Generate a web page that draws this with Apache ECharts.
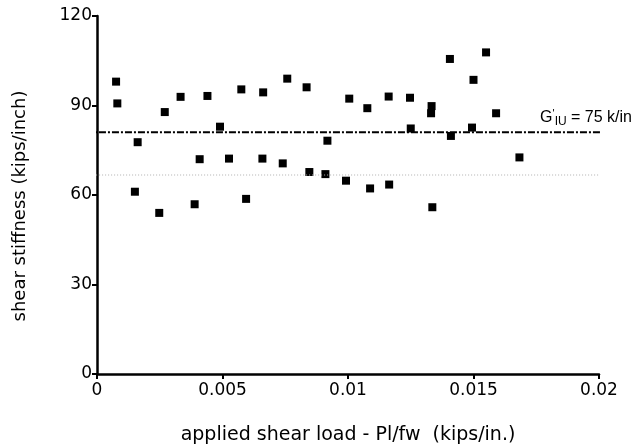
<!DOCTYPE html>
<html>
<head>
<meta charset="utf-8">
<script src="https://cdn.jsdelivr.net/npm/echarts@6/dist/echarts.min.js"></script>
<style>
  html, body { margin: 0; padding: 0; background: #fff; }
  #chart { width: 635px; height: 447px; }
</style>
</head>
<body>
<div id="chart"></div>
<script>
// applied shear load (kips/in.) and shear stiffness (kips/inch)
const loadX = [0.00076, 0.00081, 0.00162, 0.00151, 0.0027, 0.00248, 0.00333, 0.00389, 0.00409, 0.0044,
  0.0049, 0.00526, 0.00575, 0.00594, 0.00662, 0.00659, 0.0074, 0.00758, 0.00835, 0.00846,
  0.0091, 0.00918, 0.00992, 0.01005, 0.01077, 0.01088, 0.01162, 0.01164, 0.01247, 0.0125,
  0.01333, 0.01331, 0.01336, 0.01406, 0.0141, 0.015, 0.01494, 0.0155, 0.0159, 0.01683]
const stiffY = [98.0, 90.7, 77.7, 61.1, 87.8, 54.0, 92.9, 56.9, 72.0, 93.2,
  82.9, 72.2, 95.4, 58.7, 94.4, 72.2, 70.6, 99.0, 96.1, 67.7,
  67.0, 78.2, 64.8, 92.3, 89.1, 62.2, 93.0, 63.5, 92.6, 82.3,
  89.8, 87.4, 55.9, 105.6, 79.8, 98.6, 82.6, 107.8, 87.4, 72.6]

const refLevel = 81        // G'IU line
const refSpan = [-0.00044, 0.021]
const faintLevel = 66.7    // faint dotted line across the page
const faintSpan = [-0.00386, 0.02143]

const font = 'DejaVu Sans, sans-serif'
const labelFont = 'Liberation Sans, Arial, sans-serif'

const chart = echarts.init(document.getElementById('chart'))
chart.setOption({
  animation: false,
  grid: { left: 97, right: 36, top: 16, bottom: 73, outerBoundsMode: 'none', containLabel: false },
  xAxis: {
    type: 'value', min: 0, max: 0.02, interval: 0.005,
    name: 'applied shear load - Pl/fw  (kips/in.)',
    nameLocation: 'middle', nameGap: 52,
    nameTextStyle: { fontFamily: font, fontSize: 19, color: '#000' },
    axisLine: { lineStyle: { color: '#000', width: 2.5 } },
    axisTick: { lineStyle: { color: '#000', width: 2 }, length: 5 },
    axisLabel: { fontFamily: font, fontSize: 17, color: '#000', margin: 8 },
    splitLine: { show: false }
  },
  yAxis: {
    type: 'value', min: 0, max: 120, interval: 30,
    name: 'shear stiffness (kips/inch)',
    nameLocation: 'middle', nameGap: 68,
    nameTextStyle: { fontFamily: font, fontSize: 18, color: '#000', padding: [0, 22, 0, 0] },
    axisLine: { show: true, lineStyle: { color: '#000', width: 2.5 } },
    axisTick: { show: true, lineStyle: { color: '#000', width: 2 }, length: 5 },
    axisLabel: { fontFamily: font, fontSize: 17, color: '#000', margin: 5 },
    splitLine: { show: false }
  },
  series: [
    {
      type: 'line',
      data: [[faintSpan[0], faintLevel], [faintSpan[1], faintLevel]],
      clip: false,
      silent: true,
      showSymbol: false,
      lineStyle: { color: '#b0b0b0', width: 1, type: [1, 2] }
    },
    {
      type: 'line',
      data: [[refSpan[0], refLevel], [refSpan[1], refLevel]],
      clip: false,
      silent: true,
      showSymbol: false,
      lineStyle: { color: '#000', width: 2, type: [7, 2, 2, 2] },
      endLabel: {
        show: true,
        align: 'right',
        verticalAlign: 'bottom',
        offset: [24, -5],
        formatter: '{g|G}{p|\'}{s|IU}{t| = 75 k/in}',
        rich: {
          g: { fontFamily: labelFont, fontSize: 16, color: '#000' },
          p: { fontFamily: labelFont, fontSize: 11, color: '#000', verticalAlign: 'top', padding: [0, 0, 8, 0] },
          s: { fontFamily: labelFont, fontSize: 12, color: '#000', verticalAlign: 'bottom', padding: [6, 0, 0, 0] },
          t: { fontFamily: labelFont, fontSize: 16, color: '#000' }
        }
      }
    },
    {
      type: 'scatter',
      data: loadX.map((x, i) => [x, stiffY[i]]),
      symbol: 'rect',
      symbolSize: 8,
      itemStyle: { color: '#000', opacity: 1 }
    }
  ]
})
</script>
</body>
</html>
